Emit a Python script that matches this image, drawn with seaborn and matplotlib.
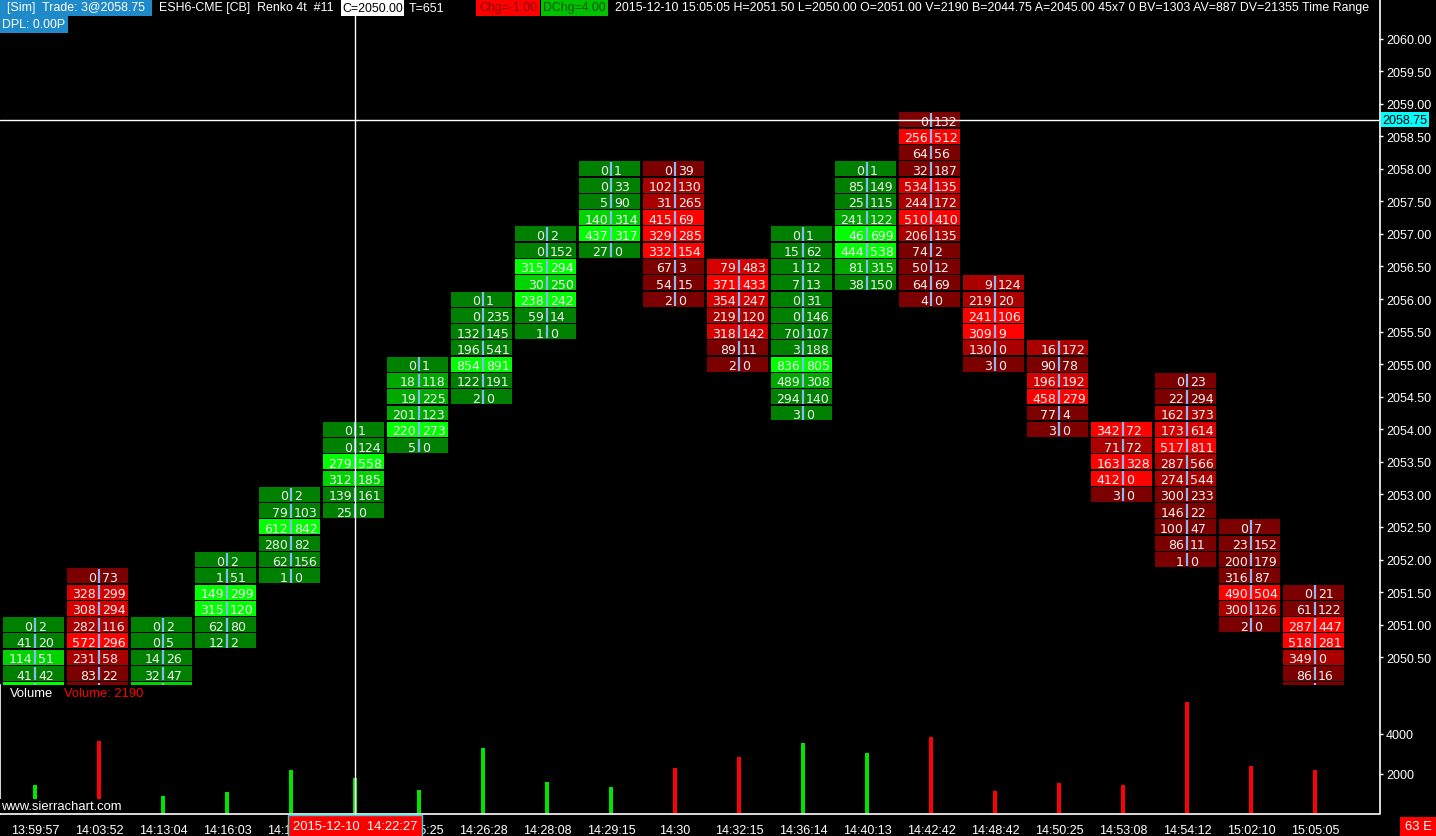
import matplotlib
matplotlib.use('Agg')
import matplotlib.pyplot as plt
from matplotlib.lines import Line2D
from matplotlib.patches import Rectangle
import matplotlib.transforms as mtransforms
import seaborn as sns
import numpy as np
import pandas as pd

# footprint data, ESH6 Renko 4t, one list per bar (top price row first)
times = ['13:59:57', '14:03:52', '14:13:04', '14:16:03', '14:19:30', '14:22:27', '14:25:25',
         '14:26:28', '14:28:08', '14:29:15', '14:30', '14:32:15', '14:36:14', '14:40:13',
         '14:42:42', '14:48:42', '14:50:25', '14:53:08', '14:54:12', '15:02:10', '15:05:05']
bar_up = [True, False, True, True, True, True, True, True, True, True, False,
          False, True, True, False, False, False, False, False, False, False]
top_price = [2051.00, 2051.75, 2051.00, 2052.00, 2053.00, 2054.00, 2055.00, 2056.00, 2057.00,
             2058.00, 2058.00, 2056.50, 2057.00, 2058.00, 2058.75, 2056.25, 2055.25, 2054.00,
             2054.75, 2052.50, 2051.50]
bid = [
    [0, 41, 114, 41, None],
    [0, 328, 308, 282, 572, 231, 83, None],
    [0, 0, 14, 32, None],
    [0, 1, 149, 315, 62, 12],
    [0, 79, 612, 280, 62, 1],
    [0, 0, 279, 312, 139, 25],
    [0, 18, 19, 201, 220, 5],
    [0, 0, 132, 196, 854, 122, 2],
    [0, 0, 315, 30, 238, 59, 1],
    [0, 0, 5, 140, 437, 27],
    [0, 102, 31, 415, 329, 332, 67, 54, 2],
    [79, 371, 354, 219, 318, 89, 2],
    [0, 15, 1, 7, 0, 0, 70, 3, 836, 489, 294, 3],
    [0, 85, 25, 241, 46, 444, 81, 38],
    [0, 256, 64, 32, 534, 244, 510, 206, 74, 50, 64, 4],
    [9, 219, 241, 309, 130, 3],
    [16, 90, 196, 458, 77, 3],
    [342, 71, 163, 412, 3],
    [0, 22, 162, 173, 517, 287, 274, 300, 146, 100, 86, 1],
    [0, 23, 200, 316, 490, 300, 2],
    [0, 61, 287, 518, 349, 86, 2],
]
ask = [
    [2, 20, 51, 42, None],
    [73, 299, 294, 116, 296, 58, 22, None],
    [2, 5, 26, 47, None],
    [2, 51, 299, 120, 80, 2],
    [2, 103, 842, 82, 156, 0],
    [1, 124, 558, 185, 161, 0],
    [1, 118, 225, 123, 273, 0],
    [1, 235, 145, 541, 891, 191, 0],
    [2, 152, 294, 250, 242, 14, 0],
    [1, 33, 90, 314, 317, 0],
    [39, 130, 265, 69, 285, 154, 3, 15, 0],
    [483, 433, 247, 120, 142, 11, 0],
    [1, 62, 12, 13, 31, 146, 107, 188, 805, 308, 140, 0],
    [1, 149, 115, 122, 699, 538, 315, 150],
    [132, 512, 56, 187, 135, 172, 410, 135, 2, 12, 69, 0],
    [124, 20, 106, 9, 0, 0],
    [172, 78, 192, 279, 4, 0],
    [72, 72, 328, 0, 0],
    [23, 294, 373, 614, 811, 566, 544, 233, 22, 47, 11, 0],
    [7, 152, 179, 87, 504, 126, 0],
    [21, 122, 447, 281, 0, 16, 0],
]
# heat level of each cell as drawn (0 dark .. 3 brightest)
shade = [
    [0, 0, 2, 0, 3],
    [0, 2, 2, 1, 3, 1, 0, 0],
    [0, 0, 0, 0, 2],
    [0, 0, 3, 3, 0, 0],
    [0, 0, 3, 0, 0, 0],
    [0, 0, 3, 2, 0, 0],
    [0, 1, 1, 1, 3, 0],
    [0, 0, 0, 0, 3, 0, 0],
    [0, 0, 3, 2, 3, 0, 0],
    [0, 0, 0, 2, 3, 0],
    [0, 1, 1, 3, 3, 3, 0, 0, 0],
    [2, 3, 2, 1, 2, 0, 0],
    [0, 0, 0, 0, 0, 0, 0, 0, 3, 1, 0, 0],
    [0, 0, 0, 1, 3, 3, 1, 0],
    [0, 3, 0, 0, 2, 1, 3, 1, 0, 0, 0, 0],
    [1, 1, 3, 3, 1, 0],
    [1, 0, 2, 3, 0, 0],
    [3, 1, 3, 3, 0],
    [0, 0, 1, 2, 3, 1, 1, 0, 0, 0, 0, 0],
    [0, 0, 0, 0, 3, 1, 0],
    [0, 0, 3, 3, 1, 0, 0],
]
volume = [1460, 3660, 910, 1093, 2219, 1784, 1203, 3310, 1597, 1364, 2292,
          2868, 3531, 3049, 3860, 1170, 1565, 1463, 5606, 2386, 2190]

sns.set_style('dark', {'axes.facecolor': 'black', 'figure.facecolor': 'black'})
plt.rcParams['font.family'] = ['Liberation Sans', 'DejaVu Sans']

GREENS = ['#008000', '#00a800', '#00d400', '#00ff00']
REDS = ['#7d0000', '#aa0000', '#d60000', '#ff0000']

W, H = 1436, 837
def fx(px): return px / W
def fy(py): return 1 - py / H

# price pane: 2060.00 sits at 39.5 px, 65.13 px per point
def price_at(py): return 2060 - (py - 39.5) / 65.13

fig = plt.figure(figsize=(W / 100, H / 100), dpi=100)
ax = fig.add_axes([0, fy(686), fx(1379), (686 - 30) / H])
axv = fig.add_axes([0, fy(815), fx(1379), (815 - 686) / H])

rows = []
for i in range(len(times)):
    for k, (b, a, s) in enumerate(zip(bid[i], ask[i], shade[i])):
        rows.append(dict(col=i, price=top_price[i] - 0.25 * k, bid=b, ask=a,
                         color=(GREENS if bar_up[i] else REDS)[s]))
cells = pd.DataFrame(rows)

gap = 0.02
ax.bar(cells['col'] - 0.023, 0.25 - gap, bottom=cells['price'] - 0.125 + gap / 2,
       width=61 / 64, color=cells['color'], linewidth=0, zorder=2)
ax.vlines(cells['col'], cells['price'] - 0.105, cells['price'] + 0.105,
          color='#8cb8f0', lw=1.6, zorder=3)
for r in cells.itertuples():
    if pd.isna(r.bid):
        continue
    ax.text(r.col - 3 / 64, r.price, f'{int(r.bid)}', ha='right', va='center_baseline',
            color='#f2f2f2', fontsize=9, family='DejaVu Sans', clip_on=True, zorder=4)
    ax.text(r.col + 3 / 64, r.price, f'{int(r.ask)}', ha='left', va='center_baseline',
            color='#f2f2f2', fontsize=9, family='DejaVu Sans', clip_on=True, zorder=4)

xlim = (-35 / 64, (1379 - 35) / 64)
ax.set_xlim(*xlim)
ax.set_ylim(price_at(686), price_at(30))
ax.set_xticks([])
ax.yaxis.tick_right()
yt = np.arange(2050.5, 2060.01, 0.5)
ax.set_yticks(yt)
ax.set_yticklabels([f'{v:.2f}' for v in yt])
ax.tick_params(axis='y', colors='white', direction='out', length=3, width=1, pad=2,
               labelsize=9, right=True, left=False)
for sp in ax.spines.values():
    sp.set_visible(False)
ax.grid(False)

# crosshair
ax.axhline(2058.75, color='white', lw=1, zorder=10)
ax.text(1.0025, 2058.75, '2058.75', transform=mtransforms.blended_transform_factory(ax.transAxes, ax.transData),
        ha='left', va='center', fontsize=9, color='black',
        bbox=dict(boxstyle='square,pad=0.12', fc='#00ffff', ec='none'), zorder=11)

# volume pane
dfv = pd.DataFrame({'idx': range(len(times)), 'volume': volume,
                    'dir': np.where(bar_up, 'up', 'down')})
sns.barplot(data=dfv, x='idx', y='volume', hue='dir', palette={'up': '#00e600', 'down': '#ff0000'},
            dodge=False, width=4 / 64, native_scale=True, legend=False, saturation=1,
            edgecolor='none', linewidth=0, ax=axv)
axv.set_xlim(*xlim)
axv.set_ylim(0, (815 - 686) * 50)
axv.set_xlabel('')
axv.set_ylabel('')
axv.set_xticks(range(len(times)))
axv.set_xticklabels(times)
axv.yaxis.tick_right()
axv.set_yticks([2000, 4000])
axv.set_yticklabels(['2000', '4000'])
axv.tick_params(axis='x', colors='white', direction='out', length=4, width=1, pad=3, labelsize=9)
axv.tick_params(axis='y', colors='white', direction='out', length=3, width=1, pad=2, labelsize=9,
                right=True, left=False)
axv.grid(False)
for name, sp in axv.spines.items():
    sp.set_visible(name in ('left', 'bottom'))
    sp.set_color('white')
    sp.set_linewidth(1.2)

fig.text(fx(10), fy(694), 'Volume', color='white', fontsize=9.4, va='center')
fig.text(fx(64), fy(694), 'Volume: 2190', color='#ff0000', fontsize=9.4, va='center')
fig.text(fx(1), fy(807), 'www.sierrachart.com', color='white', fontsize=9.4, va='center',
         bbox=dict(boxstyle='square,pad=0.1', fc='black', ec='none'))

# frame lines and crosshair across panes
x_cross = fig.transFigure.inverted().transform(ax.transData.transform((5, 2055)))[0]
fig.add_artist(Line2D([x_cross, x_cross], [fy(815), 1], transform=fig.transFigure, color='white', lw=1))
fig.add_artist(Line2D([fx(1379.5), fx(1379.5)], [fy(815), 1], transform=fig.transFigure, color='white', lw=1.2))

# header
header = [
    (0, 152, 0, 17, '[Sim]  Trade: 3@2058.75', 'white', '#1f8ac9'),
    (157, None, 0, 17, 'ESH6-CME [CB]  Renko 4t  #11', 'white', None),
    (341, 404, 0, 17, 'C=2050.00', 'black', 'white'),
    (407, None, 0, 17, 'T=651', 'white', None),
    (476, 540, 0, 17, 'Chg=-1.00', '#8a0000', '#ff0000'),
    (541, 608, 0, 17, 'DChg=4.00', '#005a00', '#00c000'),
    (613, None, 0, 17, '2015-12-10 15:05:05 H=2051.50 L=2050.00 O=2051.00 V=2190 B=2044.75 '
                       'A=2045.00 45x7 0 BV=1303 AV=887 DV=21355 Time Range', 'white', None),
    (0, 68, 17, 34, 'DPL: 0.00P', 'white', '#1f8ac9'),
]
for x0, x1, y0, y1, txt, fg, bg in header:
    if bg is not None:
        fig.add_artist(Rectangle((fx(x0), fy(y1)), fx(x1 - x0), (y1 - y0) / H,
                                 transform=fig.transFigure, fc=bg, ec='none', zorder=3))
        fig.text(fx((x0 + x1) / 2), fy((y0 + y1) / 2), txt, color=fg, fontsize=8.9,
                 ha='center', va='center', zorder=4)
    else:
        fig.text(fx(x0 + 2), fy((y0 + y1) / 2), txt, color=fg, fontsize=8.9, va='center', zorder=4)

# cursor date box and bar counter
fig.text(x_cross, fy(827), '2015-12-10  14:22:27', ha='center', va='center', color='white', fontsize=9.4,
         bbox=dict(boxstyle='square,pad=0.35', fc='#ff0000', ec='#30d8e0', lw=1), zorder=5)
fig.add_artist(Rectangle((fx(1400), 0), fx(36), 19 / H, transform=fig.transFigure,
                         fc='#ff0000', ec='none'))
fig.text(fx(1418), fy(827), '63 E', ha='center', va='center', color='white', fontsize=9.4)

fig.savefig('out.png', dpi=100, facecolor='black')
